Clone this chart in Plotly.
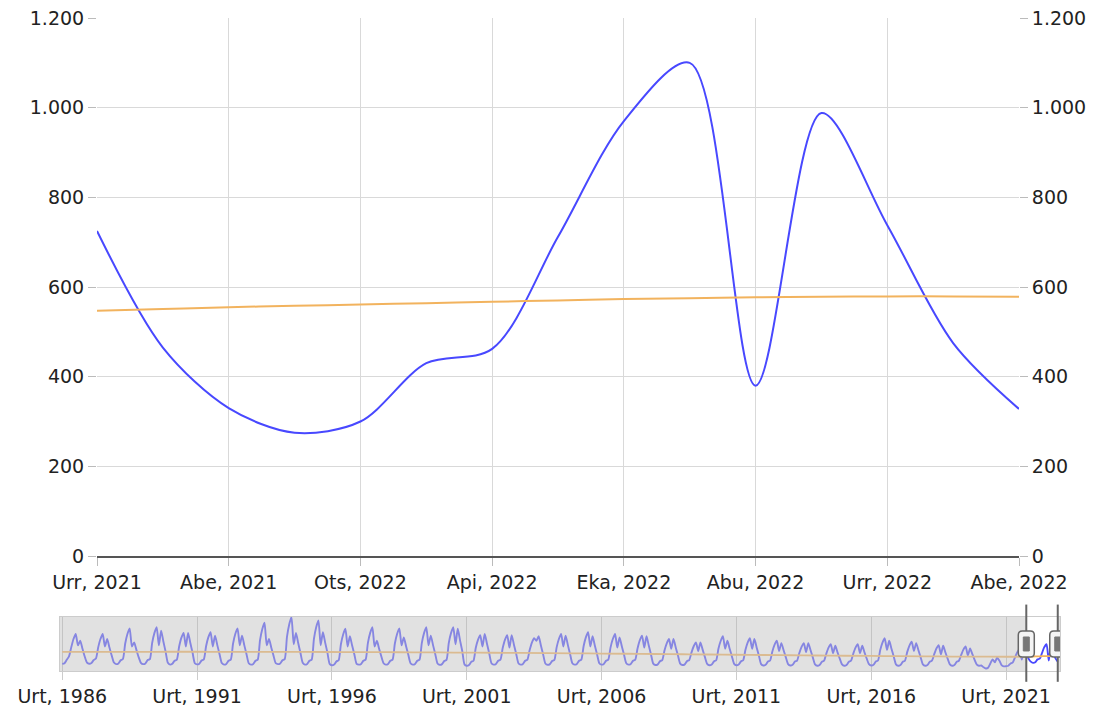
import plotly.graph_objects as go

START_YEAR = 1986

# Monthly series, Jan 1986 - Sep 2021 (navigator history), one row per year
history_values = [
    230, 260, 410, 560, 960, 1330, 1550, 1050, 1250, 900, 560, 290,   # 1986
    240, 270, 400, 470, 960, 1330, 1550, 1000, 1330, 950, 600, 290,   # 1987
    220, 250, 390, 450, 1120, 1550, 1800, 1000, 1180, 850, 530, 280,  # 1988
    220, 250, 400, 440, 1150, 1590, 1850, 1050, 1700, 1220, 770, 280, # 1989
    200, 240, 370, 420, 990, 1380, 1600, 1000, 1600, 1150, 720, 260,  # 1990
    210, 240, 380, 430, 1010, 1400, 1630, 1000, 1480, 1060, 660, 270, # 1991
    200, 230, 370, 420, 1120, 1550, 1800, 1050, 1480, 1060, 660, 260, # 1992
    200, 230, 370, 420, 1270, 1760, 2050, 1050, 1330, 960, 600, 260,  # 1993
    220, 250, 390, 440, 1420, 1970, 2290, 1100, 1600, 1150, 720, 280, # 1994
    200, 230, 370, 420, 1330, 1850, 2150, 1050, 1630, 1170, 730, 230, # 1995
    170, 200, 340, 390, 1100, 1530, 1780, 1000, 1450, 1040, 650, 230, # 1996
    200, 230, 370, 420, 1150, 1590, 1850, 1000, 1250, 900, 560, 260,  # 1997
    200, 230, 370, 420, 1120, 1550, 1800, 1050, 1400, 1010, 630, 260, # 1998
    200, 230, 370, 420, 1150, 1590, 1850, 1050, 1480, 1060, 660, 250, # 1999
    190, 220, 360, 410, 1150, 1590, 1850, 1100, 1780, 1280, 800, 210, # 2000
    150, 180, 320, 370, 930, 1290, 1500, 1000, 1550, 1120, 700, 260,  # 2001
    200, 230, 370, 420, 930, 1290, 1500, 950, 1500, 1080, 680, 260,   # 2002
    200, 230, 370, 420, 840, 1170, 1360, 1250, 1450, 1040, 650, 250,  # 2003
    190, 220, 360, 410, 960, 1330, 1550, 1000, 1480, 1060, 660, 260,  # 2004
    200, 230, 370, 420, 1010, 1400, 1630, 1000, 1450, 1040, 650, 260, # 2005
    200, 230, 370, 420, 960, 1330, 1550, 950, 1400, 1010, 630, 260,   # 2006
    200, 230, 370, 420, 910, 1270, 1480, 950, 1450, 1040, 650, 240,   # 2007
    180, 210, 350, 400, 820, 1140, 1330, 900, 1330, 960, 600, 240,    # 2008
    180, 210, 350, 400, 730, 1010, 1180, 800, 1180, 850, 530, 230,    # 2009
    170, 200, 340, 390, 900, 1240, 1450, 900, 1250, 900, 560, 230,    # 2010
    170, 200, 340, 390, 840, 1170, 1360, 900, 1330, 960, 600, 220,    # 2011
    160, 190, 330, 380, 780, 1080, 1250, 800, 1150, 830, 520, 220,    # 2012
    160, 190, 330, 380, 710, 980, 1150, 750, 1150, 830, 520, 210,     # 2013
    150, 180, 320, 370, 680, 950, 1100, 700, 1030, 740, 460, 210,     # 2014
    150, 180, 320, 370, 680, 950, 1100, 700, 1030, 740, 460, 220,     # 2015
    160, 190, 330, 380, 840, 1170, 1360, 850, 1250, 900, 560, 210,    # 2016
    150, 180, 320, 370, 750, 1040, 1210, 800, 1150, 830, 520, 210,    # 2017
    150, 180, 320, 370, 650, 910, 1060, 650, 1030, 740, 460, 210,     # 2018
    150, 180, 320, 370, 620, 860, 1000, 600, 910, 660, 410, 200,      # 2019
    150, 160, 80, 30, 60, 250, 430, 300, 500, 380, 180, 120,          # 2020
    130, 150, 250, 300, 520, 750, 880, 420, 850,                      # 2021 (Jan-Sep)
]

# Visible window: Oct 2021 - Dec 2022
main_values = [725, 465, 330, 275, 300, 430, 462, 712, 970, 1100, 380, 988, 738, 475, 328]
main_trend = [547, 551, 555, 558, 561, 564, 567, 570, 573, 575, 577, 578, 579, 579, 578]

# Trend at January of each year 1986-2021 (navigator)
trend_years = list(range(1986, 2022))
trend_values = [760, 762, 764, 765, 766, 766, 765, 764, 762, 759, 756, 752, 747, 742,
                736, 729, 722, 714, 706, 697, 688, 678, 668, 657, 646, 635, 624, 613,
                602, 591, 581, 572, 563, 556, 550, 546]

main_tick_labels = ["Urr, 2021", "Abe, 2021", "Ots, 2022", "Api, 2022",
                    "Eka, 2022", "Abu, 2022", "Urr, 2022", "Abe, 2022"]
nav_tick_years = [1986, 1991, 1996, 2001, 2006, 2011, 2016, 2021]
y_ticks = [0, 200, 400, 600, 800, 1000, 1200]

BLUE = "#4848ff"
ORANGE = "#f2b35e"
FONT = "DejaVu Sans"

n_hist = len(history_values)
all_values = history_values + main_values
all_idx = list(range(len(all_values)))
main_idx = all_idx[n_hist:]
main_start, main_end = main_idx[0], main_idx[-1]
trend_idx = [(y - START_YEAR) * 12 for y in trend_years] + main_idx
trend_all = trend_values + main_trend
nav_ticks = [(y - START_YEAR) * 12 for y in nav_tick_years]
nav_labels = ["Urt, %d" % y for y in nav_tick_years]

vmin, vmax = min(all_values), max(all_values)
span = vmax - vmin
nav_yrange = [vmin - 0.05 * span, vmax + 0.005 * span]
nav_xrange = [-1, main_end + 1]

fig = go.Figure()
fig.add_trace(go.Scatter(x=main_idx, y=main_values, mode="lines", xaxis="x", yaxis="y",
                         line=dict(color=BLUE, width=2, shape="spline", smoothing=0.9),
                         hoverinfo="skip", showlegend=False))
fig.add_trace(go.Scatter(x=main_idx, y=main_trend, mode="lines", xaxis="x", yaxis="y3",
                         line=dict(color=ORANGE, width=2, shape="spline"),
                         hoverinfo="skip", showlegend=False))
fig.add_trace(go.Scatter(x=all_idx, y=all_values, mode="lines", xaxis="x2", yaxis="y2",
                         line=dict(color=BLUE, width=1.9, shape="spline", smoothing=0.6),
                         hoverinfo="skip", showlegend=False))
fig.add_trace(go.Scatter(x=trend_idx, y=trend_all, mode="lines", xaxis="x2", yaxis="y2",
                         line=dict(color=ORANGE, width=1.8, shape="spline"),
                         hoverinfo="skip", showlegend=False))

tickfont = dict(family=FONT, size=19, color="#222")
grid = "#d9d9d9"

shapes = [
    # unselected navigator mask (both sides of the visible window)
    dict(type="rect", xref="x2", yref="y2 domain", x0=nav_xrange[0], x1=main_start, y0=0, y1=1,
         fillcolor="rgba(195,195,195,0.5)", line=dict(width=0), layer="above"),
    dict(type="rect", xref="x2", yref="y2 domain", x0=main_end, x1=nav_xrange[1], y0=0, y1=1,
         fillcolor="rgba(195,195,195,0.5)", line=dict(width=0), layer="above"),
]
for xa in (main_start, main_end):
    shapes.append(dict(type="line", xref="x2", yref="y2 domain", x0=xa, x1=xa, y0=-0.2, y1=1.23,
                       line=dict(color="#666", width=2), layer="above"))
    shapes.append(dict(type="path", xref="x2", yref="y2 domain", xsizemode="pixel", ysizemode="pixel",
                       xanchor=xa, yanchor=0.5,
                       path="M -8,-9 Q -8,-13 -4,-13 L 4,-13 Q 8,-13 8,-9 L 8,9 Q 8,13 4,13 L -4,13 Q -8,13 -8,9 Z",
                       fillcolor="#f4f4f4", line=dict(color="#666", width=1.5), layer="above"))
    shapes.append(dict(type="path", xref="x2", yref="y2 domain", xsizemode="pixel", ysizemode="pixel",
                       xanchor=xa, yanchor=0.5,
                       path="M -3,-7 L 3,-7 L 3,7 L -3,7 Z",
                       fillcolor="#777", line=dict(color="#777", width=1), layer="above"))

# The page body adds an 8px offset; the figure is sized to fit the window.
fig.update_layout(
    width=1093, height=705,
    margin=dict(l=52, r=41, t=10, b=42, autoexpand=False),
    paper_bgcolor="white", plot_bgcolor="white",
    separators=",.",
    showlegend=False,
    hovermode=False,
    font=dict(family=FONT, size=19, color="#222"),
    xaxis=dict(domain=[0.037, 0.959], anchor="y", range=[main_start, main_end],
               tickvals=main_idx[::2], ticktext=main_tick_labels,
               showgrid=True, gridcolor=grid, gridwidth=1,
               ticks="outside", ticklen=8, tickcolor="#bbb",
               showline=True, linecolor="#555", linewidth=1.5,
               zeroline=False, tickfont=tickfont, automargin=False,
               ticklabeloverflow="allow"),
    yaxis=dict(domain=[0.1761, 1], anchor="x", range=[0, 1200], tickvals=y_ticks,
               separatethousands=True, showgrid=True, gridcolor=grid, gridwidth=1,
               ticks="outside", ticklen=8, tickcolor="#bbb",
               showline=False, zeroline=False, tickfont=tickfont, automargin=False,
               ticklabeloverflow="allow"),
    yaxis3=dict(overlaying="y", side="right", anchor="x", range=[0, 1200], tickvals=y_ticks,
                separatethousands=True, showgrid=False,
                ticks="outside", ticklen=8, tickcolor="#bbb",
                showline=False, zeroline=False, tickfont=tickfont, automargin=False,
                ticklabeloverflow="allow"),
    xaxis2=dict(domain=[0, 1], anchor="y2", range=nav_xrange,
                tickvals=nav_ticks, ticktext=nav_labels,
                showgrid=True, gridcolor="#c4c4c4", gridwidth=1,
                ticks="outside", ticklen=8, tickcolor="#ccc",
                showline=True, mirror=True, linecolor="#ccc", linewidth=1,
                zeroline=False, tickfont=tickfont, automargin=False,
                ticklabeloverflow="allow"),
    yaxis2=dict(domain=[0, 0.0827], anchor="x2", range=nav_yrange,
                showticklabels=False, showgrid=False, ticks="",
                showline=True, mirror=True, linecolor="#ccc", linewidth=1,
                zeroline=False, automargin=False),
    shapes=shapes,
)

fig.write_html("out.html")
